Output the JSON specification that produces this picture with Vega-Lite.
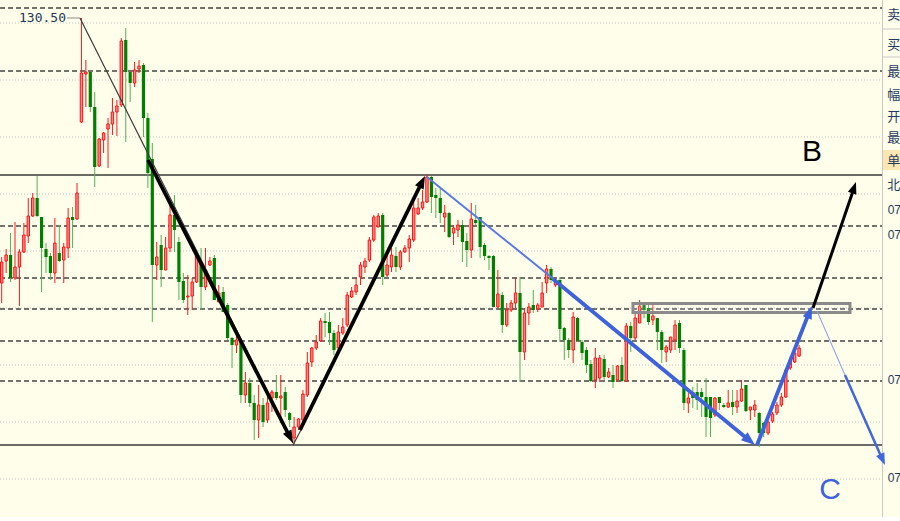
{
"$schema":"https://vega.github.io/schema/vega-lite/v6.json",
"width":900,"height":517,"padding":0,"autosize":{"type":"none"},
"background":"#EEEEEE",
"config":{"view":{"stroke":null,"fill":"#FEFEEA"},"scale":{"continuousPadding":0}},
"datasets":{
"candles":[
{"x":0,"o":127.85,"h":128.11,"l":127.65,"c":128.06},
{"x":1,"o":128.07,"h":128.19,"l":127.95,"c":128.13},
{"x":2,"o":128.13,"h":128.35,"l":127.86,"c":127.90},
{"x":3,"o":127.90,"h":128.46,"l":127.88,"c":128.01},
{"x":4,"o":128.01,"h":128.19,"l":127.62,"c":128.16},
{"x":5,"o":128.16,"h":128.45,"l":128.15,"c":128.33},
{"x":6,"o":128.32,"h":128.70,"l":128.25,"c":128.52},
{"x":7,"o":128.52,"h":128.75,"l":128.51,"c":128.70},
{"x":8,"o":128.70,"h":128.92,"l":128.51,"c":128.52},
{"x":9,"o":128.51,"h":128.51,"l":127.76,"c":128.20},
{"x":10,"o":128.19,"h":128.25,"l":127.95,"c":128.11},
{"x":11,"o":128.12,"h":128.15,"l":127.88,"c":127.95},
{"x":12,"o":127.95,"h":128.50,"l":127.85,"c":128.25},
{"x":13,"o":128.15,"h":128.43,"l":128.06,"c":128.07},
{"x":14,"o":128.08,"h":128.25,"l":127.85,"c":128.21},
{"x":15,"o":128.20,"h":128.60,"l":128.10,"c":128.50},
{"x":16,"o":128.51,"h":128.61,"l":128.20,"c":128.48},
{"x":17,"o":128.49,"h":128.85,"l":128.48,"c":128.75},
{"x":18,"o":129.46,"h":130.50,"l":129.45,"c":129.95},
{"x":19,"o":129.94,"h":130.08,"l":129.61,"c":129.96},
{"x":20,"o":129.96,"h":129.96,"l":129.56,"c":129.61},
{"x":21,"o":129.61,"h":129.76,"l":128.81,"c":129.01},
{"x":22,"o":129.02,"h":129.30,"l":129.01,"c":129.29},
{"x":23,"o":129.28,"h":129.36,"l":129.15,"c":129.35},
{"x":24,"o":129.39,"h":129.50,"l":129.00,"c":129.44},
{"x":25,"o":129.44,"h":129.70,"l":129.33,"c":129.56},
{"x":26,"o":129.56,"h":129.68,"l":129.32,"c":129.62},
{"x":27,"o":129.63,"h":130.30,"l":129.61,"c":130.27},
{"x":28,"o":130.28,"h":130.40,"l":129.26,"c":129.96},
{"x":29,"o":129.96,"h":129.96,"l":129.66,"c":129.85},
{"x":30,"o":129.85,"h":130.06,"l":129.81,"c":129.98},
{"x":31,"o":129.99,"h":130.08,"l":129.95,"c":130.02},
{"x":32,"o":130.03,"h":130.05,"l":129.31,"c":129.50},
{"x":33,"o":129.50,"h":129.55,"l":128.80,"c":128.95},
{"x":34,"o":129.09,"h":129.25,"l":127.46,"c":128.03},
{"x":35,"o":128.03,"h":128.26,"l":127.88,"c":128.11},
{"x":36,"o":128.23,"h":128.33,"l":127.81,"c":127.98},
{"x":37,"o":127.98,"h":128.31,"l":127.98,"c":128.20},
{"x":38,"o":128.20,"h":128.65,"l":128.16,"c":128.53},
{"x":39,"o":128.53,"h":128.73,"l":128.16,"c":128.38},
{"x":40,"o":128.26,"h":128.31,"l":127.68,"c":127.86},
{"x":41,"o":127.87,"h":127.95,"l":127.65,"c":127.68},
{"x":42,"o":127.71,"h":127.93,"l":127.53,"c":127.72},
{"x":43,"o":127.72,"h":127.90,"l":127.58,"c":127.86},
{"x":44,"o":127.86,"h":128.18,"l":127.85,"c":128.13},
{"x":45,"o":128.06,"h":128.20,"l":127.58,"c":127.81},
{"x":46,"o":127.81,"h":128.20,"l":127.78,"c":127.98},
{"x":47,"o":128.03,"h":128.11,"l":128.02,"c":128.07},
{"x":48,"o":128.10,"h":128.13,"l":127.68,"c":127.68},
{"x":49,"o":127.66,"h":127.83,"l":127.66,"c":127.75},
{"x":50,"o":127.76,"h":127.81,"l":127.56,"c":127.56},
{"x":51,"o":127.63,"h":127.65,"l":127.28,"c":127.30},
{"x":52,"o":127.30,"h":127.31,"l":127.00,"c":127.23},
{"x":53,"o":127.23,"h":127.33,"l":127.15,"c":127.28},
{"x":54,"o":127.26,"h":127.28,"l":126.65,"c":126.73},
{"x":55,"o":126.73,"h":126.96,"l":126.65,"c":126.85},
{"x":56,"o":126.85,"h":126.90,"l":126.61,"c":126.65},
{"x":57,"o":126.65,"h":126.73,"l":126.28,"c":126.48},
{"x":58,"o":126.48,"h":126.83,"l":126.30,"c":126.63},
{"x":59,"o":126.63,"h":126.70,"l":126.41,"c":126.46},
{"x":60,"o":126.48,"h":126.76,"l":126.45,"c":126.65},
{"x":61,"o":126.70,"h":126.78,"l":126.56,"c":126.76},
{"x":62,"o":126.76,"h":126.93,"l":126.68,"c":126.70},
{"x":63,"o":126.70,"h":126.93,"l":126.45,"c":126.72},
{"x":64,"o":126.76,"h":126.81,"l":126.51,"c":126.58},
{"x":65,"o":126.55,"h":126.56,"l":126.41,"c":126.48},
{"x":66,"o":126.30,"h":126.51,"l":126.24,"c":126.41},
{"x":67,"o":126.41,"h":126.50,"l":126.38,"c":126.49},
{"x":68,"o":126.48,"h":126.78,"l":126.46,"c":126.74},
{"x":69,"o":126.73,"h":127.16,"l":126.71,"c":127.05},
{"x":70,"o":127.06,"h":127.21,"l":127.01,"c":127.20},
{"x":71,"o":127.20,"h":127.33,"l":127.18,"c":127.26},
{"x":72,"o":127.27,"h":127.50,"l":127.26,"c":127.47},
{"x":73,"o":127.47,"h":127.55,"l":127.31,"c":127.45},
{"x":74,"o":127.46,"h":127.56,"l":127.23,"c":127.35},
{"x":75,"o":127.35,"h":127.38,"l":127.13,"c":127.18},
{"x":76,"o":127.20,"h":127.43,"l":127.18,"c":127.36},
{"x":77,"o":127.35,"h":127.50,"l":127.33,"c":127.41},
{"x":78,"o":127.43,"h":127.76,"l":127.41,"c":127.73},
{"x":79,"o":127.71,"h":127.81,"l":127.70,"c":127.77},
{"x":80,"o":127.76,"h":127.90,"l":127.73,"c":127.83},
{"x":81,"o":127.91,"h":128.06,"l":127.83,"c":128.03},
{"x":82,"o":128.01,"h":128.10,"l":127.95,"c":128.07},
{"x":83,"o":128.08,"h":128.31,"l":128.06,"c":128.28},
{"x":84,"o":128.28,"h":128.53,"l":128.26,"c":128.51},
{"x":85,"o":128.41,"h":128.55,"l":128.41,"c":128.52},
{"x":86,"o":128.53,"h":128.55,"l":127.83,"c":127.91},
{"x":87,"o":127.93,"h":128.13,"l":127.91,"c":128.03},
{"x":88,"o":128.01,"h":128.20,"l":127.96,"c":128.13},
{"x":89,"o":128.12,"h":128.21,"l":127.96,"c":128.01},
{"x":90,"o":128.01,"h":128.18,"l":127.98,"c":128.16},
{"x":91,"o":128.16,"h":128.23,"l":128.15,"c":128.20},
{"x":92,"o":128.20,"h":128.33,"l":128.06,"c":128.29},
{"x":93,"o":128.28,"h":128.70,"l":128.26,"c":128.60},
{"x":94,"o":128.54,"h":128.70,"l":128.53,"c":128.60},
{"x":95,"o":128.60,"h":128.78,"l":128.58,"c":128.66},
{"x":96,"o":128.66,"h":128.93,"l":128.65,"c":128.91},
{"x":97,"o":128.91,"h":128.92,"l":128.55,"c":128.71},
{"x":98,"o":128.73,"h":128.80,"l":128.50,"c":128.70},
{"x":99,"o":128.70,"h":128.80,"l":128.45,"c":128.55},
{"x":100,"o":128.51,"h":128.63,"l":128.36,"c":128.55},
{"x":101,"o":128.55,"h":128.56,"l":128.30,"c":128.31},
{"x":102,"o":128.35,"h":128.43,"l":128.23,"c":128.40},
{"x":103,"o":128.38,"h":128.48,"l":128.31,"c":128.43},
{"x":104,"o":128.43,"h":128.48,"l":128.06,"c":128.26},
{"x":105,"o":128.27,"h":128.35,"l":128.01,"c":128.18},
{"x":106,"o":128.18,"h":128.65,"l":128.10,"c":128.49},
{"x":107,"o":128.48,"h":128.63,"l":128.43,"c":128.45},
{"x":108,"o":128.51,"h":128.51,"l":128.10,"c":128.21},
{"x":109,"o":128.23,"h":128.25,"l":128.08,"c":128.12},
{"x":110,"o":128.12,"h":128.13,"l":127.98,"c":128.10},
{"x":111,"o":128.12,"h":128.13,"l":127.61,"c":127.61},
{"x":112,"o":127.61,"h":127.98,"l":127.60,"c":127.74},
{"x":113,"o":127.73,"h":127.76,"l":127.35,"c":127.43},
{"x":114,"o":127.43,"h":127.65,"l":127.41,"c":127.58},
{"x":115,"o":127.58,"h":127.68,"l":127.56,"c":127.65},
{"x":116,"o":127.65,"h":127.90,"l":127.60,"c":127.75},
{"x":117,"o":127.75,"h":127.91,"l":126.86,"c":127.16},
{"x":118,"o":127.16,"h":127.60,"l":127.08,"c":127.55},
{"x":119,"o":127.55,"h":127.65,"l":127.43,"c":127.61},
{"x":120,"o":127.63,"h":127.78,"l":127.55,"c":127.58},
{"x":121,"o":127.59,"h":127.65,"l":127.56,"c":127.63},
{"x":122,"o":127.61,"h":127.86,"l":127.61,"c":127.75},
{"x":123,"o":127.85,"h":128.03,"l":127.75,"c":127.99},
{"x":124,"o":127.99,"h":128.01,"l":127.85,"c":127.88},
{"x":125,"o":127.83,"h":127.90,"l":127.81,"c":127.86},
{"x":126,"o":127.88,"h":127.91,"l":127.26,"c":127.39},
{"x":127,"o":127.40,"h":127.41,"l":127.08,"c":127.28},
{"x":128,"o":127.28,"h":127.30,"l":127.10,"c":127.18},
{"x":129,"o":127.18,"h":127.56,"l":127.05,"c":127.51},
{"x":130,"o":127.50,"h":127.51,"l":127.26,"c":127.27},
{"x":131,"o":127.26,"h":127.28,"l":127.08,"c":127.15},
{"x":132,"o":127.18,"h":127.21,"l":126.95,"c":127.03},
{"x":133,"o":127.04,"h":127.08,"l":126.86,"c":126.87},
{"x":134,"o":126.88,"h":127.20,"l":126.80,"c":127.10},
{"x":135,"o":126.90,"h":127.13,"l":126.86,"c":127.10},
{"x":136,"o":127.09,"h":127.13,"l":126.88,"c":126.91},
{"x":137,"o":126.91,"h":127.00,"l":126.90,"c":126.96},
{"x":138,"o":126.93,"h":127.03,"l":126.80,"c":126.86},
{"x":139,"o":126.88,"h":127.03,"l":126.86,"c":127.02},
{"x":140,"o":127.03,"h":127.11,"l":126.86,"c":126.87},
{"x":141,"o":126.87,"h":127.45,"l":126.86,"c":127.42},
{"x":142,"o":127.42,"h":127.46,"l":127.16,"c":127.30},
{"x":143,"o":127.30,"h":127.56,"l":127.28,"c":127.50},
{"x":144,"o":127.45,"h":127.68,"l":127.45,"c":127.62},
{"x":145,"o":127.63,"h":127.65,"l":127.50,"c":127.58},
{"x":146,"o":127.60,"h":127.63,"l":127.43,"c":127.46},
{"x":147,"o":127.48,"h":127.65,"l":127.43,"c":127.52},
{"x":148,"o":127.50,"h":127.50,"l":127.18,"c":127.36},
{"x":149,"o":127.36,"h":127.38,"l":127.05,"c":127.18},
{"x":150,"o":127.16,"h":127.23,"l":127.06,"c":127.21},
{"x":151,"o":127.18,"h":127.31,"l":127.15,"c":127.31},
{"x":152,"o":127.28,"h":127.48,"l":127.18,"c":127.43},
{"x":153,"o":127.45,"h":127.48,"l":127.15,"c":127.20},
{"x":154,"o":127.18,"h":127.20,"l":126.58,"c":126.65},
{"x":155,"o":126.65,"h":126.75,"l":126.55,"c":126.70},
{"x":156,"o":126.76,"h":126.81,"l":126.60,"c":126.70},
{"x":157,"o":126.76,"h":126.85,"l":126.58,"c":126.68},
{"x":158,"o":126.76,"h":126.80,"l":126.51,"c":126.71},
{"x":159,"o":126.71,"h":126.90,"l":126.31,"c":126.51},
{"x":160,"o":126.71,"h":126.71,"l":126.31,"c":126.50},
{"x":161,"o":126.53,"h":126.71,"l":126.51,"c":126.70},
{"x":162,"o":126.71,"h":126.71,"l":126.58,"c":126.65},
{"x":163,"o":126.63,"h":126.65,"l":126.60,"c":126.61},
{"x":164,"o":126.61,"h":126.78,"l":126.60,"c":126.65},
{"x":165,"o":126.66,"h":126.78,"l":126.53,"c":126.61},
{"x":166,"o":126.61,"h":126.78,"l":126.55,"c":126.67},
{"x":167,"o":126.67,"h":126.88,"l":126.66,"c":126.79},
{"x":168,"o":126.83,"h":126.83,"l":126.56,"c":126.57},
{"x":169,"o":126.58,"h":126.61,"l":126.48,"c":126.61},
{"x":170,"o":126.58,"h":126.68,"l":126.51,"c":126.63},
{"x":171,"o":126.55,"h":126.56,"l":126.21,"c":126.35},
{"x":172,"o":126.45,"h":126.46,"l":126.31,"c":126.35},
{"x":173,"o":126.35,"h":126.48,"l":126.33,"c":126.46},
{"x":174,"o":126.47,"h":126.56,"l":126.45,"c":126.54},
{"x":175,"o":126.55,"h":126.66,"l":126.53,"c":126.63},
{"x":176,"o":126.63,"h":126.75,"l":126.61,"c":126.71},
{"x":177,"o":126.71,"h":127.00,"l":126.70,"c":126.98},
{"x":178,"o":127.00,"h":127.11,"l":126.98,"c":127.08},
{"x":179,"o":127.06,"h":127.18,"l":127.05,"c":127.15},
{"x":180,"o":127.12,"h":127.23,"l":127.11,"c":127.20}
],
"levels":[
{"y":130.45,"k":"dot"},{"y":129.88,"k":"dot"},{"y":129.31,"k":"dot"},{"y":128.74,"k":"dot"},{"y":128.17,"k":"dot"},{"y":127.60,"k":"dot"},{"y":127.03,"k":"dot"},{"y":126.46,"k":"dot"},{"y":125.89,"k":"dot"},
{"y":130.60,"k":"dash"},{"y":129.97,"k":"dash"},{"y":128.42,"k":"dash"},{"y":127.90,"k":"dash"},{"y":127.59,"k":"dash"},{"y":127.27,"k":"dash"},{"y":126.87,"k":"dash"},
{"y":128.93,"k":"solid"},{"y":126.23,"k":"solid"}
],
"ann":[
{"s":"a","x":17.67,"y":130.50},{"s":"a","x":65.76,"y":126.25},
{"s":"b","x":33.02,"y":129.08},{"s":"b","x":64.94,"y":126.32},
{"s":"c","x":65.76,"y":126.23},{"s":"c","x":67.79,"y":126.40},
{"s":"d","x":67.34,"y":126.38},{"s":"d","x":94.76,"y":128.85},
{"s":"e","x":96.0,"y":128.91},{"s":"e","x":125.13,"y":127.87},
{"s":"f","x":124.45,"y":127.89},{"s":"f","x":168.65,"y":126.28},
{"s":"g","x":170.50,"y":126.23},{"s":"g","x":182.23,"y":127.55},
{"s":"h","x":183.14,"y":127.60},{"s":"h","x":192.26,"y":128.78},
{"s":"i","x":184.04,"y":127.57},{"s":"i","x":190.36,"y":126.93},
{"s":"j","x":190.36,"y":126.93},{"s":"j","x":198.67,"y":126.10}
],
"heads":[
{"h":"h1","x":65.76,"y":126.25},{"h":"h2","x":95.55,"y":128.92},{"h":"h3","x":170.05,"y":126.23},
{"h":"h4","x":182.91,"y":127.62},{"h":"h5","x":192.84,"y":128.86},{"h":"h6","x":199.39,"y":126.03}
],
"box":[{"x":142.5,"x2":191.49,"y":127.645,"y2":127.555}],
"hilabel":[{"t":"130.50","x":14.51,"y":130.50}],
"letters":[{"t":"B","x":182.91,"y":129.16},{"t":"C","x":186.97,"y":125.78}],
"panel":[
{"t":"卖","y":130.53},{"t":"买","y":130.23},{"t":"最","y":129.96},{"t":"幅","y":129.73},
{"t":"开","y":129.51},{"t":"最","y":129.30},{"t":"单","y":129.07},{"t":"北","y":128.83}
],
"times":[
{"t":"07","y":128.58},{"t":"07","y":128.33},{"t":"07","y":126.88},{"t":"07","y":125.90}
]
},
"layer":[
{"data":{"name":"levels"},"transform":[{"filter":"datum.k=='dot'"}],
 "mark":{"type":"rule","color":"#C4C4C4","strokeWidth":1,"strokeDash":[1,2]},
 "encoding":{"x":{"datum":-0.384,"type":"quantitative","scale":{"domain":[-0.384,202.78],"nice":false,"zero":false,"padding":0},"axis":null},"x2":{"datum":198.84},
 "y":{"field":"y","type":"quantitative","scale":{"domain":[125.51,130.68],"nice":false,"zero":false,"padding":0},"axis":null}}},
{"data":{"name":"levels"},"transform":[{"filter":"datum.k=='dash'"}],
 "mark":{"type":"rule","color":"#454545","strokeWidth":1.3,"strokeDash":[5,3]},
 "encoding":{"x":{"datum":-0.384,"type":"quantitative","scale":{"domain":[-0.384,202.78],"nice":false,"zero":false,"padding":0},"axis":null},"x2":{"datum":198.84},
 "y":{"field":"y","type":"quantitative","scale":{"domain":[125.51,130.68],"nice":false,"zero":false,"padding":0},"axis":null}}},
{"data":{"name":"levels"},"transform":[{"filter":"datum.k=='solid'"}],
 "mark":{"type":"rule","color":"#3A3A3A","strokeWidth":1.4},
 "encoding":{"x":{"datum":-0.384,"type":"quantitative","scale":{"domain":[-0.384,202.78],"nice":false,"zero":false,"padding":0},"axis":null},"x2":{"datum":198.84},
 "y":{"field":"y","type":"quantitative","scale":{"domain":[125.51,130.68],"nice":false,"zero":false,"padding":0},"axis":null}}},
{"data":{"name":"hilabel"},
 "mark":{"type":"rect","color":"#FCE7B2"},
 "encoding":{"x":{"datum":198.9,"type":"quantitative","scale":{"domain":[-0.384,202.78],"nice":false,"zero":false,"padding":0},"axis":null},"x2":{"datum":202.78},
 "y":{"datum":129.18,"type":"quantitative","scale":{"domain":[125.51,130.68],"nice":false,"zero":false,"padding":0},"axis":null},"y2":{"datum":128.98}}},
{"data":{"name":"hilabel"},
 "mark":{"type":"rule","color":"#C8C8C8","strokeWidth":1},
 "encoding":{"x":{"datum":198.84,"type":"quantitative","scale":{"domain":[-0.384,202.78],"nice":false,"zero":false,"padding":0},"axis":null}}},
{"data":{"name":"hilabel"},
 "mark":{"type":"rule","color":"#C8C8C8","strokeWidth":1},
 "encoding":{"x":{"datum":198.84,"type":"quantitative","scale":{"domain":[-0.384,202.78],"nice":false,"zero":false,"padding":0},"axis":null},"x2":{"datum":202.78},
 "y":{"datum":130.39,"type":"quantitative","scale":{"domain":[125.51,130.68],"nice":false,"zero":false,"padding":0},"axis":null}}},
{"data":{"name":"hilabel"},
 "mark":{"type":"rule","color":"#C8C8C8","strokeWidth":1},
 "encoding":{"x":{"datum":198.84,"type":"quantitative","scale":{"domain":[-0.384,202.78],"nice":false,"zero":false,"padding":0},"axis":null},"x2":{"datum":202.78},
 "y":{"datum":130.11,"type":"quantitative","scale":{"domain":[125.51,130.68],"nice":false,"zero":false,"padding":0},"axis":null}}},
{"data":{"name":"candles"},"transform":[{"filter":"datum.c>=datum.o"}],
 "mark":{"type":"rule","color":"#FF1A1A","strokeWidth":1},
 "encoding":{"x":{"field":"x","type":"quantitative","scale":{"domain":[-0.384,202.78],"nice":false,"zero":false,"padding":0},"axis":null},
 "y":{"field":"h","type":"quantitative","scale":{"domain":[125.51,130.68],"nice":false,"zero":false,"padding":0},"axis":null},"y2":{"field":"l"}}},
{"data":{"name":"candles"},"transform":[{"filter":"datum.c<datum.o"}],
 "mark":{"type":"rule","color":"#55B055","strokeWidth":1},
 "encoding":{"x":{"field":"x","type":"quantitative","scale":{"domain":[-0.384,202.78],"nice":false,"zero":false,"padding":0},"axis":null},
 "y":{"field":"h","type":"quantitative","scale":{"domain":[125.51,130.68],"nice":false,"zero":false,"padding":0},"axis":null},"y2":{"field":"l"}}},
{"data":{"name":"candles"},"transform":[{"filter":"datum.c>=datum.o"}],
 "mark":{"type":"bar","width":2.4,"fill":"#FF8C8C","stroke":"#FF1010","strokeWidth":1},
 "encoding":{"x":{"field":"x","type":"quantitative","scale":{"domain":[-0.384,202.78],"nice":false,"zero":false,"padding":0},"axis":null},
 "y":{"field":"o","type":"quantitative","scale":{"domain":[125.51,130.68],"nice":false,"zero":false,"padding":0},"axis":null},"y2":{"field":"c"}}},
{"data":{"name":"candles"},"transform":[{"filter":"datum.c<datum.o"}],
 "mark":{"type":"bar","width":3.2,"fill":"#008000"},
 "encoding":{"x":{"field":"x","type":"quantitative","scale":{"domain":[-0.384,202.78],"nice":false,"zero":false,"padding":0},"axis":null},
 "y":{"field":"o","type":"quantitative","scale":{"domain":[125.51,130.68],"nice":false,"zero":false,"padding":0},"axis":null},"y2":{"field":"c"}}},
{"data":{"name":"box"},
 "mark":{"type":"rect","fill":"#FFFFFF","fillOpacity":0.15,"stroke":"#8A8A8A","strokeWidth":3},
 "encoding":{"x":{"field":"x","type":"quantitative","scale":{"domain":[-0.384,202.78],"nice":false,"zero":false,"padding":0},"axis":null},"x2":{"field":"x2"},
 "y":{"field":"y","type":"quantitative","scale":{"domain":[125.51,130.68],"nice":false,"zero":false,"padding":0},"axis":null},"y2":{"field":"y2"}}},
{"data":{"name":"ann"},"transform":[{"filter":"datum.s=='a'||datum.s=='c'"}],
 "mark":{"type":"line","color":"#3A3A3A","strokeWidth":1.2},
 "encoding":{"detail":{"field":"s"},"x":{"field":"x","type":"quantitative","scale":{"domain":[-0.384,202.78],"nice":false,"zero":false,"padding":0},"axis":null},
 "y":{"field":"y","type":"quantitative","scale":{"domain":[125.51,130.68],"nice":false,"zero":false,"padding":0},"axis":null}}},
{"data":{"name":"ann"},"transform":[{"filter":"datum.s=='b'||datum.s=='d'"}],
 "mark":{"type":"line","color":"#000000","strokeWidth":3.8},
 "encoding":{"detail":{"field":"s"},"x":{"field":"x","type":"quantitative","scale":{"domain":[-0.384,202.78],"nice":false,"zero":false,"padding":0},"axis":null},
 "y":{"field":"y","type":"quantitative","scale":{"domain":[125.51,130.68],"nice":false,"zero":false,"padding":0},"axis":null}}},
{"data":{"name":"ann"},"transform":[{"filter":"datum.s=='h'"}],
 "mark":{"type":"line","color":"#000000","strokeWidth":3},
 "encoding":{"x":{"field":"x","type":"quantitative","scale":{"domain":[-0.384,202.78],"nice":false,"zero":false,"padding":0},"axis":null},
 "y":{"field":"y","type":"quantitative","scale":{"domain":[125.51,130.68],"nice":false,"zero":false,"padding":0},"axis":null}}},
{"data":{"name":"ann"},"transform":[{"filter":"datum.s=='e'"}],
 "mark":{"type":"line","color":"#5A7AE6","strokeWidth":2},
 "encoding":{"x":{"field":"x","type":"quantitative","scale":{"domain":[-0.384,202.78],"nice":false,"zero":false,"padding":0},"axis":null},
 "y":{"field":"y","type":"quantitative","scale":{"domain":[125.51,130.68],"nice":false,"zero":false,"padding":0},"axis":null}}},
{"data":{"name":"ann"},"transform":[{"filter":"datum.s=='f'||datum.s=='g'"}],
 "mark":{"type":"line","color":"#3E62DC","strokeWidth":3.8},
 "encoding":{"detail":{"field":"s"},"x":{"field":"x","type":"quantitative","scale":{"domain":[-0.384,202.78],"nice":false,"zero":false,"padding":0},"axis":null},
 "y":{"field":"y","type":"quantitative","scale":{"domain":[125.51,130.68],"nice":false,"zero":false,"padding":0},"axis":null}}},
{"data":{"name":"ann"},"transform":[{"filter":"datum.s=='i'"}],
 "mark":{"type":"line","color":"#8FA3EA","strokeWidth":1.1},
 "encoding":{"x":{"field":"x","type":"quantitative","scale":{"domain":[-0.384,202.78],"nice":false,"zero":false,"padding":0},"axis":null},
 "y":{"field":"y","type":"quantitative","scale":{"domain":[125.51,130.68],"nice":false,"zero":false,"padding":0},"axis":null}}},
{"data":{"name":"ann"},"transform":[{"filter":"datum.s=='j'"}],
 "mark":{"type":"line","color":"#4466DD","strokeWidth":2.5},
 "encoding":{"x":{"field":"x","type":"quantitative","scale":{"domain":[-0.384,202.78],"nice":false,"zero":false,"padding":0},"axis":null},
 "y":{"field":"y","type":"quantitative","scale":{"domain":[125.51,130.68],"nice":false,"zero":false,"padding":0},"axis":null}}},
{"data":{"name":"heads"},"transform":[{"filter":"datum.h=='h1'"}],
 "mark":{"type":"point","shape":"M0,0L0.6,1.6L-0.6,1.6Z","filled":true,"opacity":1,"color":"#000000","size":256,"angle":152.9},
 "encoding":{"x":{"field":"x","type":"quantitative","scale":{"domain":[-0.384,202.78],"nice":false,"zero":false,"padding":0},"axis":null},
 "y":{"field":"y","type":"quantitative","scale":{"domain":[125.51,130.68],"nice":false,"zero":false,"padding":0},"axis":null}}},
{"data":{"name":"heads"},"transform":[{"filter":"datum.h=='h2'"}],
 "mark":{"type":"point","shape":"M0,0L0.6,1.6L-0.6,1.6Z","filled":true,"opacity":1,"color":"#000000","size":256,"angle":26.2},
 "encoding":{"x":{"field":"x","type":"quantitative","scale":{"domain":[-0.384,202.78],"nice":false,"zero":false,"padding":0},"axis":null},
 "y":{"field":"y","type":"quantitative","scale":{"domain":[125.51,130.68],"nice":false,"zero":false,"padding":0},"axis":null}}},
{"data":{"name":"heads"},"transform":[{"filter":"datum.h=='h3'"}],
 "mark":{"type":"point","shape":"M0,0L0.6,1.6L-0.6,1.6Z","filled":true,"opacity":1,"color":"#3E62DC","size":300,"angle":129.4},
 "encoding":{"x":{"field":"x","type":"quantitative","scale":{"domain":[-0.384,202.78],"nice":false,"zero":false,"padding":0},"axis":null},
 "y":{"field":"y","type":"quantitative","scale":{"domain":[125.51,130.68],"nice":false,"zero":false,"padding":0},"axis":null}}},
{"data":{"name":"heads"},"transform":[{"filter":"datum.h=='h4'"}],
 "mark":{"type":"point","shape":"M0,0L0.6,1.6L-0.6,1.6Z","filled":true,"opacity":1,"color":"#3E62DC","size":256,"angle":21.6},
 "encoding":{"x":{"field":"x","type":"quantitative","scale":{"domain":[-0.384,202.78],"nice":false,"zero":false,"padding":0},"axis":null},
 "y":{"field":"y","type":"quantitative","scale":{"domain":[125.51,130.68],"nice":false,"zero":false,"padding":0},"axis":null}}},
{"data":{"name":"heads"},"transform":[{"filter":"datum.h=='h5'"}],
 "mark":{"type":"point","shape":"M0,0L0.6,1.6L-0.6,1.6Z","filled":true,"opacity":1,"color":"#000000","size":220,"angle":18.8},
 "encoding":{"x":{"field":"x","type":"quantitative","scale":{"domain":[-0.384,202.78],"nice":false,"zero":false,"padding":0},"axis":null},
 "y":{"field":"y","type":"quantitative","scale":{"domain":[125.51,130.68],"nice":false,"zero":false,"padding":0},"axis":null}}},
{"data":{"name":"heads"},"transform":[{"filter":"datum.h=='h6'"}],
 "mark":{"type":"point","shape":"M0,0L0.6,1.6L-0.6,1.6Z","filled":true,"opacity":1,"color":"#4466DD","size":220,"angle":156.2},
 "encoding":{"x":{"field":"x","type":"quantitative","scale":{"domain":[-0.384,202.78],"nice":false,"zero":false,"padding":0},"axis":null},
 "y":{"field":"y","type":"quantitative","scale":{"domain":[125.51,130.68],"nice":false,"zero":false,"padding":0},"axis":null}}},
{"data":{"name":"hilabel"},
 "mark":{"type":"rule","color":"#8A8A8A","strokeWidth":1},
 "encoding":{"x":{"datum":14.74,"type":"quantitative","scale":{"domain":[-0.384,202.78],"nice":false,"zero":false,"padding":0},"axis":null},"x2":{"datum":17.67},
 "y":{"datum":130.50,"type":"quantitative","scale":{"domain":[125.51,130.68],"nice":false,"zero":false,"padding":0},"axis":null}}},
{"data":{"name":"hilabel"},
 "mark":{"type":"text","align":"right","baseline":"middle","font":"DejaVu Sans Mono","fontSize":13,"color":"#22385A"},
 "encoding":{"text":{"field":"t"},"x":{"field":"x","type":"quantitative","scale":{"domain":[-0.384,202.78],"nice":false,"zero":false,"padding":0},"axis":null},
 "y":{"field":"y","type":"quantitative","scale":{"domain":[125.51,130.68],"nice":false,"zero":false,"padding":0},"axis":null}}},
{"data":{"name":"letters"},"transform":[{"filter":"datum.t=='B'"}],
 "mark":{"type":"text","align":"center","baseline":"middle","font":"Liberation Sans","fontSize":30,"color":"#000000"},
 "encoding":{"text":{"field":"t"},"x":{"field":"x","type":"quantitative","scale":{"domain":[-0.384,202.78],"nice":false,"zero":false,"padding":0},"axis":null},
 "y":{"field":"y","type":"quantitative","scale":{"domain":[125.51,130.68],"nice":false,"zero":false,"padding":0},"axis":null}}},
{"data":{"name":"letters"},"transform":[{"filter":"datum.t=='C'"}],
 "mark":{"type":"text","align":"center","baseline":"middle","font":"Liberation Sans","fontSize":30,"color":"#3E62DC"},
 "encoding":{"text":{"field":"t"},"x":{"field":"x","type":"quantitative","scale":{"domain":[-0.384,202.78],"nice":false,"zero":false,"padding":0},"axis":null},
 "y":{"field":"y","type":"quantitative","scale":{"domain":[125.51,130.68],"nice":false,"zero":false,"padding":0},"axis":null}}},
{"data":{"name":"panel"},
 "mark":{"type":"text","align":"left","baseline":"middle","font":"Noto Sans CJK SC","fontSize":13,"color":"#1F3B60"},
 "encoding":{"text":{"field":"t"},"x":{"datum":199.9,"type":"quantitative","scale":{"domain":[-0.384,202.78],"nice":false,"zero":false,"padding":0},"axis":null},
 "y":{"field":"y","type":"quantitative","scale":{"domain":[125.51,130.68],"nice":false,"zero":false,"padding":0},"axis":null}}},
{"data":{"name":"times"},
 "mark":{"type":"text","align":"left","baseline":"middle","font":"Liberation Sans","fontSize":12,"color":"#1F3B60"},
 "encoding":{"text":{"field":"t"},"x":{"datum":200.0,"type":"quantitative","scale":{"domain":[-0.384,202.78],"nice":false,"zero":false,"padding":0},"axis":null},
 "y":{"field":"y","type":"quantitative","scale":{"domain":[125.51,130.68],"nice":false,"zero":false,"padding":0},"axis":null}}}
]
}
